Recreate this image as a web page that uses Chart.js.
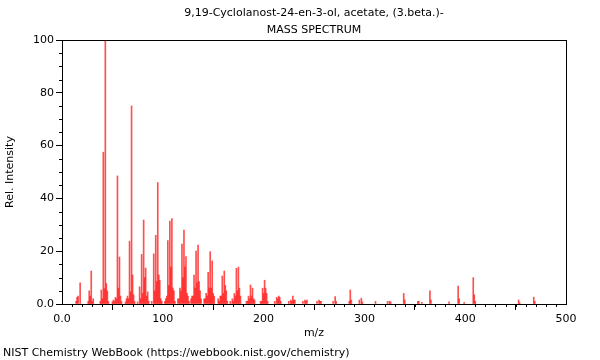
<!DOCTYPE html>
<html>
<head>
<meta charset="utf-8">
<script src="https://cdn.jsdelivr.net/npm/chart.js@4"></script>
<style>
  html, body { margin: 0; padding: 0; background: #fff; }
  #wrap { width: 600px; height: 360px; }
</style>
</head>
<body>
<div id="wrap"><canvas id="msChart" width="600" height="360"></canvas></div>
<script>
const titleLines = ['9,19-Cyclolanost-24-en-3-ol, acetate, (3.beta.)-', 'MASS SPECTRUM'];
const footerText = 'NIST Chemistry WebBook (https://webbook.nist.gov/chemistry)';

// m/z values and their relative intensities
const mzValues = [
  14, 15, 16, 18, 26, 27, 28, 29, 30, 31,
  38, 39, 40, 41, 42, 43, 44, 45, 46,
  50, 51, 52, 53, 54, 55, 56, 57, 58, 59,
  63, 64, 65, 66, 67, 68, 69, 70, 71, 72,
  75, 77, 78, 79, 80, 81, 82, 83, 84, 85, 86,
  89, 91, 92, 93, 94, 95, 96, 97, 98, 99,
  102, 103, 104, 105, 106, 107, 108, 109, 110, 111, 112,
  115, 116, 117, 118, 119, 120, 121, 122, 123, 124, 125, 126,
  128, 129, 130, 131, 132, 133, 134, 135, 136, 137, 138,
  141, 142, 143, 144, 145, 146, 147, 148, 149, 150, 151,
  155, 156, 157, 158, 159, 160, 161, 162, 163, 164,
  167, 169, 170, 171, 172, 173, 174, 175, 176, 177,
  183, 184, 185, 186, 187, 188, 189, 190, 191,
  197, 198, 199, 200, 201, 202, 203, 204,
  211, 213, 214, 215, 216, 217,
  225, 227, 228, 229, 230, 231,
  239, 241, 242, 243, 253, 255, 256, 257,
  269, 271, 272, 285, 286, 287, 295, 297, 298,
  311, 323, 325, 326, 339, 340, 353, 354, 357, 365, 366,
  384, 393, 394, 399, 408, 409, 410, 453, 454, 468, 469
];
const intensities = [
  1, 2.5, 3, 8, 1, 5, 3, 12.5, 1, 2,
  1, 5.3, 2, 57.5, 5.8, 100, 7.7, 4.9, 1,
  0.8, 1.5, 1, 2.5, 2, 48.5, 6, 17.8, 3, 1,
  0.8, 2, 3, 2, 23.8, 4.6, 75, 11, 3.5, 1,
  0.8, 6.5, 2, 18.8, 4, 31.8, 10, 13.6, 3, 4.6, 1,
  1, 19, 5, 26, 8.5, 46, 11, 9, 2, 1,
  1, 2, 3, 24, 7, 31.4, 14, 32.4, 6, 5, 1,
  2, 2, 6, 5, 22.7, 10, 28, 14, 18, 4, 3, 1,
  2, 3, 3, 11, 6, 20, 8, 22.3, 8.5, 5, 2,
  2, 2, 4, 3, 12, 6, 19.8, 6, 16.3, 4, 3,
  2, 1, 3, 3, 10.6, 4, 12.5, 7, 5, 1,
  1, 2, 1, 4, 3, 13.5, 5, 14, 6, 3,
  1, 1, 3, 2, 7.2, 3, 6, 2, 1.5,
  1, 1, 6, 4, 9, 6, 4, 1,
  1, 2.5, 2, 3, 2.5, 1,
  1, 1.5, 1, 3, 1.5, 1.5,
  1, 1.5, 1, 1.5, 1, 1.5, 1, 1,
  1, 2.8, 1, 1, 5.3, 1.5, 1.5, 2.2, 0.8,
  1, 1, 1, 0.8, 4, 1.5, 1, 1, 0.6, 5, 1.5,
  0.8, 6.8, 2, 0.6, 10, 3.5, 1, 1.5, 0.5, 2.6, 1
];

const xMajorTicks = [0, 100, 200, 300, 400, 500];
const yMajorTicks = [0, 20, 40, 60, 80, 100];

const FONT = 'DejaVu Sans';

// frame, minor ticks, titles and footer
const extras = {
  id: 'extras',
  afterDraw(chart) {
    const {ctx, chartArea: a, scales: {x, y}} = chart;
    ctx.save();
    ctx.strokeStyle = '#000';
    ctx.lineWidth = 1;
    ctx.strokeRect(Math.round(a.left) + 0.5, Math.round(a.top) + 0.5,
      Math.round(a.right - a.left), Math.round(a.bottom - a.top));

    ctx.beginPath();
    for (let v = 0; v <= 500; v += 10) {
      if (v % 100 === 0) continue;
      const px = Math.round(x.getPixelForValue(v)) + 0.5;
      ctx.moveTo(px, a.bottom);
      ctx.lineTo(px, a.bottom + 3);
    }
    for (let v = 0; v <= 100; v += 5) {
      if (v % 20 === 0) continue;
      const py = Math.round(y.getPixelForValue(v)) + 0.5;
      ctx.moveTo(a.left, py);
      ctx.lineTo(a.left - 3, py);
    }
    ctx.stroke();

    ctx.fillStyle = '#000';
    ctx.font = '11px "' + FONT + '"';
    ctx.textAlign = 'center';
    ctx.textBaseline = 'middle';
    const cx = (a.left + a.right) / 2;
    ctx.fillText(titleLines[0], cx, 13);
    ctx.fillText(titleLines[1], cx, 30);
    ctx.textAlign = 'left';
    ctx.fillText(footerText, 3, 353);
    ctx.restore();
  }
};

const ctxMs = document.getElementById('msChart').getContext('2d');
new Chart(ctxMs, {
  type: 'bar',
  data: {
    datasets: [{
      data: mzValues.map((m, i) => ({x: m, y: intensities[i]})),
      backgroundColor: 'rgba(255, 20, 20, 0.75)',
      borderWidth: 0,
      barThickness: 1,
      grouped: false
    }]
  },
  options: {
    responsive: false,
    animation: false,
    layout: { padding: { top: 40, right: 34, bottom: 0, left: 0 } },
    scales: {
      x: {
        type: 'linear',
        min: 0,
        max: 500,
        offset: false,
        afterFit: s => { s.height = 56; },
        afterBuildTicks: s => { s.ticks = xMajorTicks.map(v => ({value: v})); },
        border: { display: false },
        grid: { drawOnChartArea: false, drawTicks: true, tickLength: 6, color: '#000' },
        ticks: {
          color: '#000', padding: 3, maxRotation: 0,
          font: { family: FONT, size: 11 },
          callback: v => v === 0 ? '0.0' : String(v)
        },
        title: {
          display: true, text: 'm/z', color: '#000',
          font: { family: FONT, size: 11 },
          padding: { top: 0, bottom: 20 }
        }
      },
      y: {
        min: 0,
        max: 100,
        afterFit: s => { s.width = 62; },
        afterBuildTicks: s => { s.ticks = yMajorTicks.map(v => ({value: v})); },
        border: { display: false },
        grid: { drawOnChartArea: false, drawTicks: true, tickLength: 6, color: '#000' },
        ticks: {
          color: '#000', padding: 2,
          font: { family: FONT, size: 11 },
          callback: v => v === 0 ? '0.0' : String(v)
        },
        title: {
          display: true, text: 'Rel. Intensity', color: '#000',
          font: { family: FONT, size: 11 },
          padding: { top: 4, bottom: 0 }
        }
      }
    },
    plugins: {
      legend: { display: false },
      tooltip: { enabled: false }
    }
  },
  plugins: [extras]
});
</script>
</body>
</html>
